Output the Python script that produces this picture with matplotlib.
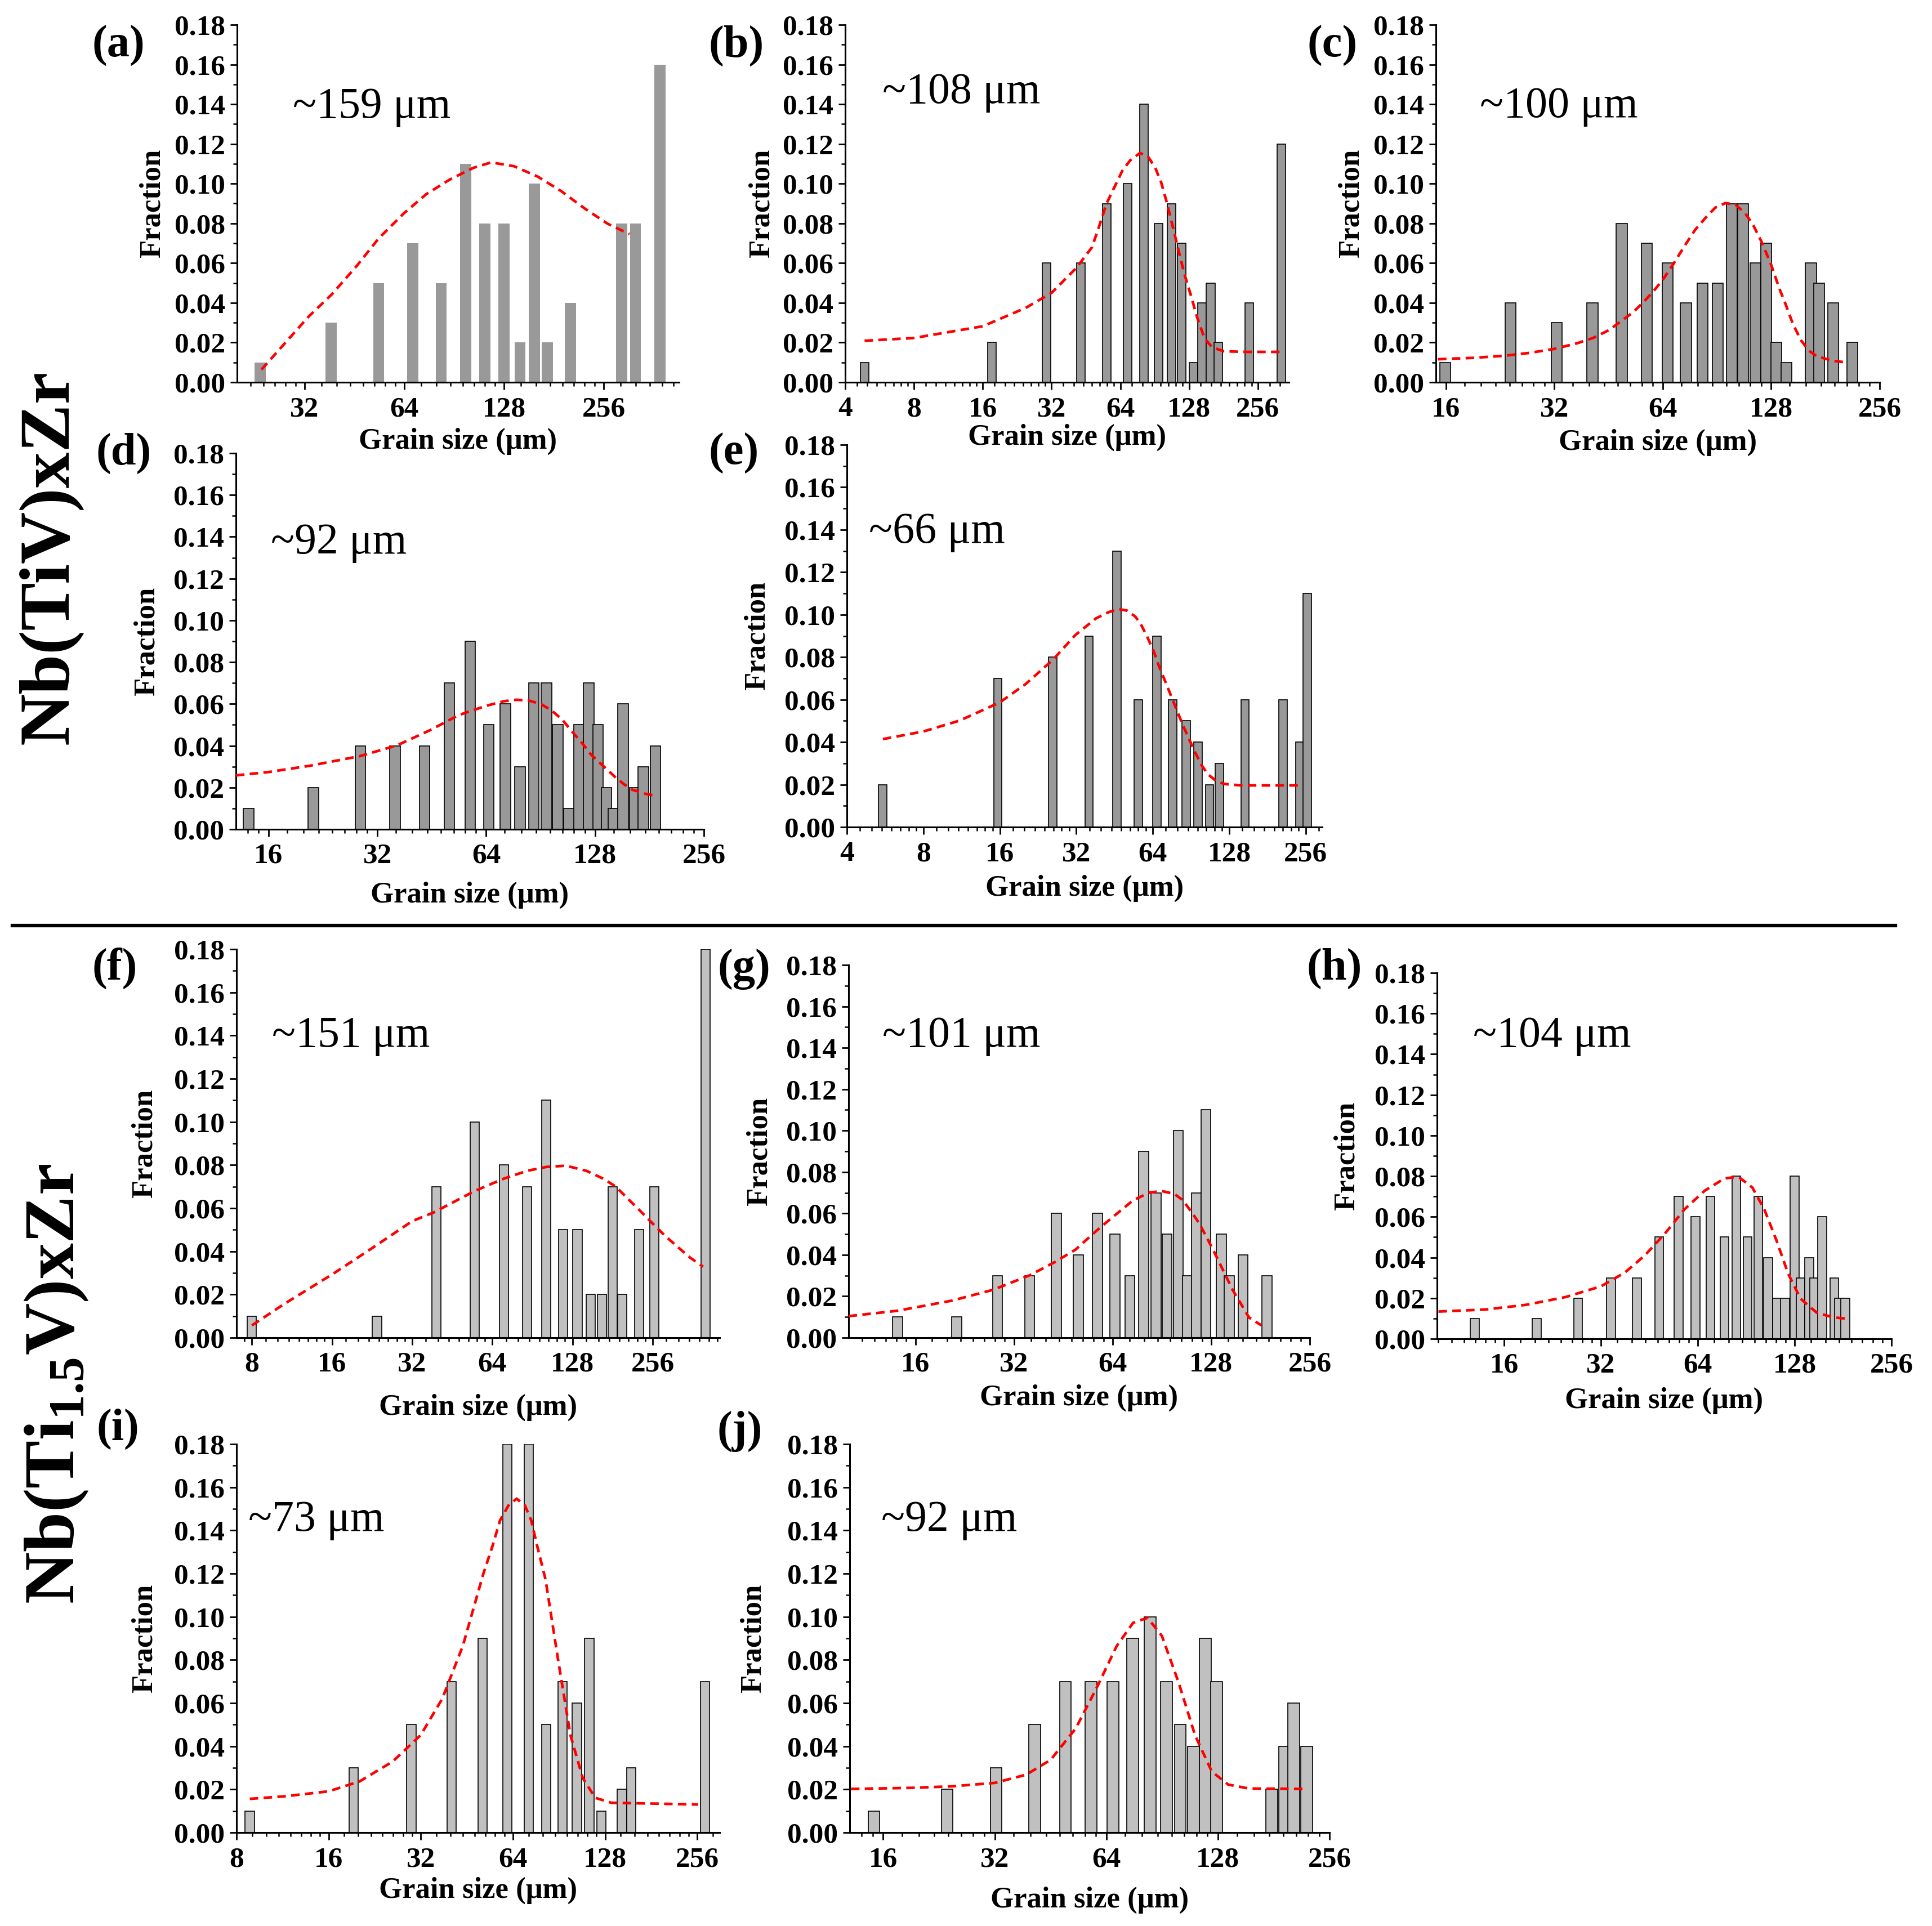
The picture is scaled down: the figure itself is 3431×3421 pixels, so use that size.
import numpy as np
import matplotlib
matplotlib.use('Agg')
import matplotlib.pyplot as plt
from matplotlib.ticker import FixedLocator, NullFormatter, MultipleLocator, FormatStrFormatter
from matplotlib.lines import Line2D

plt.rcParams['font.family'] = ['Liberation Serif', 'DejaVu Serif']
plt.rcParams['font.weight'] = 'bold'
plt.rcParams['axes.labelweight'] = 'bold'
plt.rcParams['mathtext.fontset'] = 'custom'
plt.rcParams['mathtext.rm'] = 'Liberation Serif:bold'
plt.rcParams['mathtext.bf'] = 'Liberation Serif:bold'
plt.rcParams['mathtext.it'] = 'Liberation Serif:italic:bold'

# ---- data (grain size in um, fraction) ----
a_size = [23.5, 38.5, 53.5, 67.8, 82.7, 98, 112, 128, 143, 158, 173, 203, 290, 319, 378]
a_frac = [0.01, 0.03, 0.05, 0.07, 0.05, 0.11, 0.08, 0.08, 0.02, 0.10, 0.02, 0.04, 0.08, 0.08, 0.16]
a_fit_x = [23.7, 27.9, 32.9, 38.6, 45.8, 53.5, 63.7, 74.5, 87.8, 103.5, 117, 137, 161.5, 190.5, 225, 263, 306]
a_fit_y = [0.0064, 0.0197, 0.0331, 0.0442, 0.0583, 0.0724, 0.0850, 0.0947, 0.1021, 0.1080, 0.1107,
           0.1088, 0.1036, 0.0962, 0.0873, 0.0798, 0.0746]

b_size = [4.86, 17.5, 30.4, 43.1, 55.8, 68.7, 81.3, 94, 107, 119, 133.6, 146, 159, 172, 235, 324]
b_frac = [0.01, 0.02, 0.06, 0.06, 0.09, 0.10, 0.14, 0.08, 0.09, 0.07, 0.01, 0.04, 0.05, 0.02, 0.04, 0.12]
b_fit_x = [4.86, 8, 16, 24.7, 32, 41.1, 48.1, 51.6, 55.8, 60.8, 65.3, 70.6, 77.9, 84.2, 91, 96.6,
           102.4, 108.6, 115, 122, 130.5, 138.4, 149.6, 161.9, 182, 229, 327]
b_fit_y = [0.0209, 0.0223, 0.0282, 0.0375, 0.0450, 0.0576, 0.0680, 0.0783, 0.0902, 0.0991, 0.1065,
           0.1117, 0.1154, 0.1140, 0.1080, 0.1006, 0.0902, 0.0783, 0.0665, 0.0546, 0.0435, 0.0331,
           0.0220, 0.0175, 0.0156, 0.0153, 0.0153]

c_size = [15.9, 24.2, 32.5, 40.8, 49.2, 57.7, 66, 74.2, 82.6, 91, 99.5, 107, 115.6, 123.8, 132.3,
          141, 165, 174, 190, 215]
c_frac = [0.01, 0.04, 0.03, 0.04, 0.08, 0.07, 0.06, 0.04, 0.05, 0.05, 0.09, 0.09, 0.06, 0.07, 0.02,
          0.01, 0.06, 0.05, 0.04, 0.02]
c_fit_x = [15.2, 19.1, 23.4, 27.3, 32, 37.1, 41.1, 45.5, 49.1, 53, 57.2, 60.2, 64, 68.6, 74, 78.8,
           84.1, 89.6, 95.5, 101.7, 108.5, 114.1, 120.2, 128, 134.8, 140, 147, 154.8, 162.7, 171.2,
           190, 204.8]
c_fit_y = [0.0116, 0.0123, 0.0134, 0.0148, 0.0168, 0.0197, 0.0224, 0.0264, 0.0309, 0.0353, 0.0413,
           0.0457, 0.0516, 0.0598, 0.0694, 0.0769, 0.0828, 0.0880, 0.0902, 0.0895, 0.0850, 0.0791,
           0.0709, 0.0591, 0.0472, 0.0398, 0.0294, 0.0212, 0.0160, 0.0131, 0.0108, 0.0101]

d_size = [14.1, 21.3, 28.7, 35.8, 43.2, 50.6, 57.8, 65, 72.3, 79.4, 86.7, 94, 101, 108.4, 115.6,
          123, 130.4, 137.5, 144, 153, 164.6, 174, 188]
d_frac = [0.01, 0.02, 0.04, 0.04, 0.04, 0.07, 0.09, 0.05, 0.06, 0.03, 0.07, 0.07, 0.05, 0.01, 0.05,
          0.07, 0.05, 0.02, 0.01, 0.06, 0.02, 0.03, 0.04]
d_fit_x = [13.0, 16, 20.8, 28.6, 36.2, 44.7, 53.8, 64, 71.7, 77.6, 84, 90.8, 97, 103.7, 110.7,
           118.3, 124.7, 131.4, 138.4, 145.9, 153.8, 162, 175.4, 187]
d_fit_y = [0.0258, 0.0274, 0.0304, 0.0350, 0.0401, 0.0474, 0.0547, 0.0591, 0.0613, 0.0620, 0.0616,
           0.0599, 0.0569, 0.0526, 0.0467, 0.0409, 0.0358, 0.0321, 0.0285, 0.0248, 0.0216, 0.0190,
           0.0171, 0.0161]

e_size = [5.54, 15.7, 25.8, 35.9, 46.2, 56.1, 66.4, 76.6, 86.7, 96.3, 107, 117, 147.6, 208, 243, 259]
e_frac = [0.02, 0.07, 0.08, 0.09, 0.13, 0.06, 0.09, 0.06, 0.05, 0.04, 0.02, 0.03, 0.06, 0.06, 0.04, 0.11]
e_fit_x = [5.54, 8, 11.1, 16, 20.2, 25.9, 31.7, 38.3, 42.9, 47.1, 50.7, 54.7, 57.9, 61.2, 64.7,
           67.2, 71.1, 75.2, 79.5, 84.1, 88.9, 94.1, 99.5, 105.3, 113.6, 122.3, 142.3, 249]
e_fit_y = [0.0414, 0.0450, 0.0501, 0.0587, 0.0673, 0.0788, 0.0904, 0.0983, 0.1012, 0.1026, 0.1019,
           0.0990, 0.0947, 0.0889, 0.0824, 0.0767, 0.0695, 0.0623, 0.0551, 0.0479, 0.0414, 0.0350,
           0.0292, 0.0249, 0.0217, 0.0203, 0.0196, 0.0196]

f_size = [8, 23.6, 39.4, 55, 70.7, 86.4, 102, 118, 133.6, 150, 165.5, 181, 197, 228, 259.7, 404.5]
f_frac = [0.01, 0.01, 0.07, 0.10, 0.08, 0.07, 0.11, 0.05, 0.05, 0.02, 0.02, 0.07, 0.02, 0.05, 0.07, 0.18]
f_fit_x = [8, 10.6, 16, 21.7, 32, 38.5, 55, 70.7, 86.4, 102, 120.9, 144.5, 166.8, 185.6, 206.6,
           230, 256, 285, 317, 353, 396]
f_fit_y = [0.0057, 0.0157, 0.0293, 0.0400, 0.0540, 0.0580, 0.0680, 0.0737, 0.0773, 0.0791, 0.0797,
           0.0773, 0.0737, 0.0701, 0.0644, 0.0587, 0.0529, 0.0472, 0.0422, 0.0372, 0.0329]

g_size = [14.1, 21.4, 28.5, 35.7, 43.1, 50.3, 57.5, 65, 72.3, 79.6, 86.8, 93.9, 101.5, 108.5,
          115.3, 123.3, 137.6, 145.4, 160, 189.5]
g_frac = [0.01, 0.01, 0.03, 0.03, 0.06, 0.04, 0.06, 0.05, 0.03, 0.09, 0.07, 0.05, 0.10, 0.03,
          0.07, 0.11, 0.05, 0.03, 0.04, 0.03]
g_fit_x = [10, 14.1, 20.7, 27.6, 35.7, 42.6, 49.3, 57, 64, 74, 83, 90.6, 98.9, 104.8, 111, 117.7,
           124.7, 132.5, 140.4, 148.8, 157.7, 167.1, 182]
g_fit_y = [0.0104, 0.0130, 0.0179, 0.0231, 0.0301, 0.0365, 0.0425, 0.0515, 0.0582, 0.0664, 0.0701,
           0.0708, 0.0694, 0.0664, 0.0611, 0.0552, 0.0477, 0.0395, 0.0313, 0.0231, 0.0164, 0.0097,
           0.0060]

h_size = [12.96, 20.2, 27.2, 34.4, 41.4, 48.5, 55.8, 63, 70, 77.5, 84.4, 91.4, 98.7, 106, 113,
          119.5, 128, 133.6, 142, 147, 156, 170, 176, 184]
h_frac = [0.01, 0.01, 0.02, 0.03, 0.03, 0.05, 0.07, 0.06, 0.07, 0.05, 0.08, 0.05, 0.07, 0.04, 0.02,
          0.02, 0.08, 0.03, 0.04, 0.03, 0.06, 0.03, 0.02, 0.02]
h_fit_x = [10, 14.0, 18.7, 24.8, 32, 38, 43.8, 50.5, 58.2, 67.2, 77.5, 85.6, 94.6, 103, 112.3,
           122.3, 133.6, 149.8, 167.8, 185.5]
h_fit_y = [0.0134, 0.0144, 0.0167, 0.0205, 0.0258, 0.0326, 0.0410, 0.0516, 0.0637, 0.0728, 0.0789,
           0.0797, 0.0744, 0.0637, 0.0486, 0.0319, 0.0197, 0.0129, 0.0106, 0.0099]

i_size = [8.84, 19.3, 29.8, 40.3, 50.9, 61.3, 72, 82.3, 93, 103.6, 113.7, 124.4, 145.4, 155.7, 271.6]
i_frac = [0.01, 0.03, 0.05, 0.07, 0.09, 0.18, 0.18, 0.05, 0.07, 0.06, 0.09, 0.01, 0.02, 0.03, 0.07]
i_fit_x = [8.84, 11.5, 16, 20.2, 25.9, 32, 37.6, 43.9, 51.3, 54.8, 58.1, 61.9, 65.8, 70.0, 73.4,
           76.9, 81.8, 89.8, 98.6, 108.2, 118.8, 134.1, 257.6]
i_fit_y = [0.0156, 0.0168, 0.0191, 0.0237, 0.0329, 0.0452, 0.0620, 0.0865, 0.1202, 0.1325, 0.1447,
           0.1516, 0.1547, 0.1516, 0.1447, 0.1325, 0.1172, 0.0804, 0.0452, 0.0253, 0.0161, 0.0138,
           0.0130]

j_size = [15.1, 23.8, 32.3, 41, 49.6, 58.2, 66.7, 75.4, 84, 92.9, 101.3, 110, 118.5, 127, 179,
          193.5, 205, 222]
j_frac = [0.01, 0.02, 0.03, 0.05, 0.07, 0.07, 0.07, 0.09, 0.10, 0.07, 0.05, 0.04, 0.09, 0.07, 0.02,
          0.04, 0.06, 0.04]
j_fit_x = [13.1, 19, 24.5, 32, 38.9, 45.3, 52.9, 60.1, 68.3, 75.6, 82.7, 90.4, 100.2, 111, 123.2,
           136.5, 155.2, 222]
j_fit_y = [0.0202, 0.0207, 0.0214, 0.0230, 0.0268, 0.0337, 0.0482, 0.0666, 0.0865, 0.0972, 0.0995,
           0.0911, 0.0697, 0.0452, 0.0283, 0.0222, 0.0204, 0.0202]

mean_labels = ['~159 \u03bcm', '~108 \u03bcm', '~100 \u03bcm', '~92 \u03bcm', '~66 \u03bcm',
               '~151 \u03bcm', '~101 \u03bcm', '~104 \u03bcm', '~73 \u03bcm', '~92 \u03bcm']
letters = ['(a)', '(b)', '(c)', '(d)', '(e)', '(f)', '(g)', '(h)', '(i)', '(j)']

sizes = [a_size, b_size, c_size, d_size, e_size, f_size, g_size, h_size, i_size, j_size]
fracs = [a_frac, b_frac, c_frac, d_frac, e_frac, f_frac, g_frac, h_frac, i_frac, j_frac]
fit_xs = [a_fit_x, b_fit_x, c_fit_x, d_fit_x, e_fit_x, f_fit_x, g_fit_x, h_fit_x, i_fit_x, j_fit_x]
fit_ys = [a_fit_y, b_fit_y, c_fit_y, d_fit_y, e_fit_y, f_fit_y, g_fit_y, h_fit_y, i_fit_y, j_fit_y]

# ---- layout (pixels in the final image) ----
W, H = 3431, 3421
# left, right, top, bottom of each plot box
boxes = [(421, 1206, 44, 679), (1501, 2289, 44, 679), (2550, 3338, 44, 679),
         (419, 1250, 805, 1473), (1504, 2348, 790, 1469),
         (420, 1278, 1686, 2376), (1507, 2326, 1714, 2376), (2552, 3359, 1728, 2378),
         (420, 1278, 2565, 3255), (1509, 2361, 2565, 3255)]
xlims = [(20, 432), (4, 350), (15, 256), (13, 256), (4, 297),
         (7, 457), (10, 256), (9.9, 256), (8, 303), (13, 256)]
xmajors = [[32, 64, 128, 256], [4, 8, 16, 32, 64, 128, 256], [16, 32, 64, 128, 256],
           [16, 32, 64, 128, 256], [4, 8, 16, 32, 64, 128, 256],
           [8, 16, 32, 64, 128, 256], [16, 32, 64, 128, 256], [16, 32, 64, 128, 256],
           [8, 16, 32, 64, 128, 256], [16, 32, 64, 128, 256]]
bar_oct = [0.111, 0.124, 0.10, 0.095, 0.108, 0.113, 0.10, 0.09, 0.10, 0.104]   # bar width in octaves
bar_fill = ['#999999'] * 5 + ['#c0c0c0'] * 5
bar_edge = ['none'] + ['black'] * 9
note_pos = [(0.126, 0.769), (0.084, 0.81), (0.099, 0.772), (0.075, 0.761), (0.046, 0.771),
            (0.073, 0.777), (0.073, 0.81), (0.079, 0.828), (0.024, 0.804), (0.066, 0.804)]
letter_pos = [(210, 81), (1308, 81), (2366, 81), (220, 805), (1303, 805),
              (204, 1720), (1321, 1722), (2370, 1720), (209, 2538), (1314, 2542)]
xlab_off = [105, 98, 107, 117, 109, 124, 107, 110, 103, 120]
ylab_off = [150, 148, 150, 158, 159, 163, 158, 160, 163, 171]

fig = plt.figure(figsize=(W / 100, H / 100), dpi=100)

for k in range(10):
    l, r, t, b = boxes[k]
    ax = fig.add_axes([l / W, 1 - b / H, (r - l) / W, (b - t) / H])
    ax.set_facecolor('none')
    ax.set_xscale('log', base=2)

    # bars, constant width on the log axis
    x = np.array(sizes[k])
    half = 2 ** (bar_oct[k] / 2)
    ax.bar(x / half, fracs[k], width=x * half - x / half, align='edge',
           color=bar_fill[k], edgecolor=bar_edge[k], linewidth=1.2, zorder=2)

    # fitted distribution
    ax.plot(fit_xs[k], fit_ys[k], color='red', lw=3.4, ls=(0, (3.2, 2.0)), zorder=3)

    ax.set_xlim(*xlims[k])
    ax.set_ylim(0, 0.18)
    ax.set_xticks(xmajors[k], labels=[str(v) for v in xmajors[k]])
    minors = [2 ** p * (1 + j / 8) for p in range(1, 10) for j in range(1, 8)]
    minors = [m for m in minors if xlims[k][0] < m < xlims[k][1]]
    ax.xaxis.set_minor_locator(FixedLocator(minors))
    ax.xaxis.set_minor_formatter(NullFormatter())
    ax.yaxis.set_major_locator(MultipleLocator(0.02))
    ax.yaxis.set_minor_locator(MultipleLocator(0.01))
    ax.yaxis.set_major_formatter(FormatStrFormatter('%.2f'))

    for side in ['top', 'right']:
        ax.spines[side].set_visible(False)
    for side in ['left', 'bottom']:
        ax.spines[side].set_linewidth(2.2)
    ax.tick_params(which='major', direction='out', length=9, width=2, labelsize=37)
    ax.tick_params(which='minor', direction='out', length=5, width=1.8)
    ax.tick_params(axis='x', which='major', pad=9)
    ax.tick_params(axis='y', which='major', pad=6)

    ax.set_xlabel('Grain size (\u03bcm)', fontsize=38, fontweight='bold')
    ax.set_ylabel('Fraction', fontsize=38, fontweight='bold')
    ax.xaxis.label.set_va('center')
    ax.yaxis.label.set_va('center')
    ax.xaxis.set_label_coords(0.5, -xlab_off[k] / (b - t))
    ax.yaxis.set_label_coords(-ylab_off[k] / (r - l), 0.5)

    ax.text(note_pos[k][0], note_pos[k][1], mean_labels[k], transform=ax.transAxes,
            fontsize=56, fontweight='normal', ha='left', va='center')
    fig.text(letter_pos[k][0] / W, 1 - letter_pos[k][1] / H, letters[k], fontsize=58,
             fontweight='bold', ha='center', va='center')

# alloy names on the left
fig.text(90 / W, 1 - 990 / H, 'Nb(TiV)xZr', rotation=90, fontsize=92,
         fontweight='bold', ha='center', va='center')
fig.text(100 / W, 1 - 2458 / H, r'Nb(Ti$_{1.5}$V)xZr', rotation=90, fontsize=92,
         fontweight='bold', ha='center', va='center')

# separator between the two alloy groups
fig.add_artist(Line2D([22 / W, 3366 / W], [1 - 1644 / H, 1 - 1644 / H],
                      color='black', lw=4.5, transform=fig.transFigure))

fig.savefig('out.png', dpi=100)
